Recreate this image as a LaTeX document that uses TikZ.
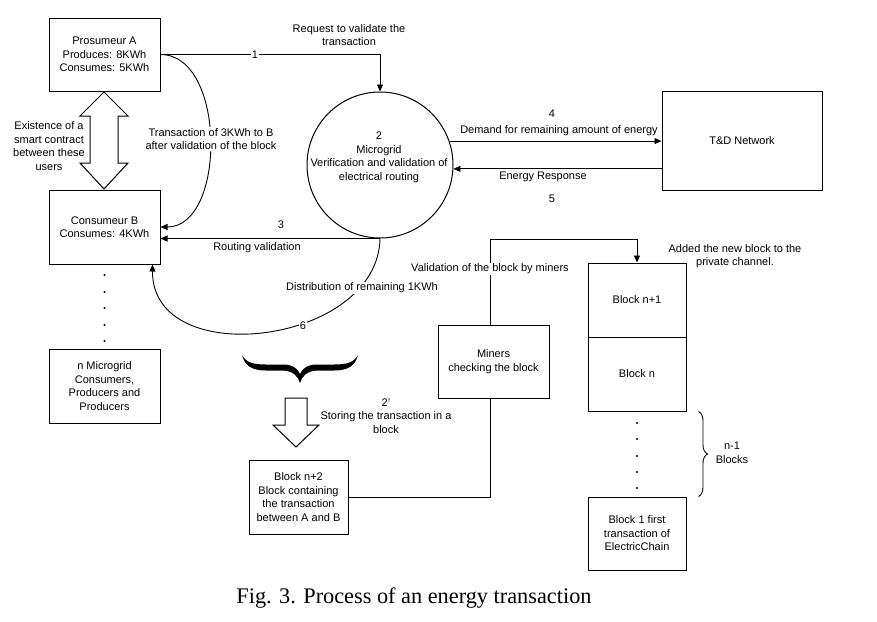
\documentclass[tikz,border=0pt]{standalone}
\usepackage{fontspec}
\setmainfont{Liberation Sans}
\newfontfamily\capfont{Liberation Serif}
\usetikzlibrary{arrows.meta,decorations.pathreplacing,calc}
\newcommand{\lblfont}{\fontsize{11}{13.5}\selectfont}
\tikzset{
  boxnode/.style={draw, line width=1pt, align=center, font=\lblfont, inner sep=2pt},
  lab/.style={font=\lblfont, align=center, inner sep=1pt},
  wlab/.style={lab, fill=white},
  arr/.style={-{Triangle[length=7pt,width=6pt]}, line width=0.9pt},
  plain/.style={line width=0.9pt},
  dotmark/.style={fill=black}
}
\begin{document}
\begin{tikzpicture}[x=1pt,y=-1pt]
\useasboundingbox (0,0) rectangle (877,621);

% boxes
\node[boxnode, minimum width=111, minimum height=73] (A) at (104.5,54.5) {Prosumeur A\\Produces: 8KWh\\Consumes: 5KWh};
\node[boxnode, minimum width=111, minimum height=74] (B) at (104.5,227) {Consumeur B\\Consumes: 4KWh};
\node[boxnode, minimum width=111, minimum height=74] (nm) at (104.5,386) {n Microgrid\\Consumers,\\Producers and\\Producers};
\node[draw, circle, line width=1pt, minimum size=146, inner sep=0pt] (circ) at (380,165) {};
\node[lab] (circt) at (379,157.5) {2\\Microgrid\\Verification and validation of\\electrical routing};
\node[boxnode, minimum width=160, minimum height=99] (TD) at (742,140.5) {T\&D Network};
\node[boxnode, minimum width=98, minimum height=74] (bn1) at (637,300) {Block n+1};
\node[boxnode, minimum width=98, minimum height=74] (bn) at (637,374) {Block n};
\node[boxnode, minimum width=98, minimum height=73] (b1) at (637,533.5) {Block 1 first\\transaction of\\ElectricChain};
\node[boxnode, minimum width=99, minimum height=74] (n2) at (298.5,497) {Block n+2\\Block containing\\the transaction\\between A and B};

% double arrow between A and B
\draw[line width=1pt] (104,92) -- (128,116) -- (118,116) -- (118,163) -- (128,163) -- (104,189)
  -- (80,163) -- (90,163) -- (90,116) -- (80,116) -- cycle;
\node[lab] (ex) at (49,146) {Existence of a\\smart contract\\between these\\users};

% edge 1
\draw[arr] (A.east) -| node[pos=0.215, wlab] (l1) {1} (circ.north);
\node[lab] (req) at (349,35) {Request to validate the\\transaction};

% transaction curve
\draw[arr] (A.east) .. controls +(66,0) and +(66,0) .. (B.east);
\node[wlab] (tr) at (211,139) {Transaction of 3KWh to B\\after validation of the block};

% edge 3
\draw[arr] (circ.south) -- (circ.south -| B.east);
\node[lab] (l3) at (281,225) {3};
\node[lab] (rv) at (257,248) {Routing validation};

% edge 6
\coordinate (Bin) at ($(B.south east)+(-8,0)$);
\draw[arr] (circ.south) .. controls (378,345) and (152,372) .. (Bin);
\node[wlab] (l6) at (303,326) {6};
\node[wlab] (dist) at (362,288) {Distribution of remaining 1KWh};

% edges 4 and 5
\draw[arr] (circ.19) -- (circ.19 -| TD.west);
\draw[arr] (TD.west |- circ.357.6) -- (circ.357.6);
\node[lab] (l4) at (552,114) {4};
\node[lab] (dem) at (559,131) {Demand for remaining amount of energy};
\node[lab] (er) at (543,177) {Energy Response};
\node[lab] (l5) at (552,199) {5};

% dots under B
\foreach \yy in {275,292,308,325,341} \fill (104.5,\yy) circle (1.1);

% big brace
\fill (242,355)
  .. controls (245,366) and (252,370.5) .. (266,370.5)
  -- (283,370.5)
  .. controls (293,371) and (298,376) .. (300,383)
  .. controls (302,376) and (307,371) .. (317,370.5)
  -- (334,370.5)
  .. controls (348,370.5) and (355,366) .. (358,355)
  .. controls (354,362) and (348,364.5) .. (334,364.5)
  -- (317,364.5)
  .. controls (307,364.5) and (302,369) .. (300,374)
  .. controls (298,369) and (293,364.5) .. (283,364.5)
  -- (266,364.5)
  .. controls (252,364.5) and (246,362) .. (242,355) -- cycle;

% block down arrow
\draw[line width=1pt] (285,398) -- (307,398) -- (307,425) -- (319,425) -- (296,447) -- (273,425) -- (285,425) -- cycle;
\node[lab] (st) at (386,416) {2'\\Storing the transaction in a\\block};

% n+2 -> n+1 via miners
\coordinate (turn) at (490,239);
\draw[arr] (n2.east) -| (turn) -| (bn1.north);
\node[boxnode, fill=white, minimum width=111, minimum height=73] (min) at (493.5,361.5) {Miners\\checking the block};
\node[wlab] (vm) at (490,269) {Validation of the block by miners};
\node[lab] (add) at (735,256) {Added the new block to the\\private channel.};

% dots between blocks
\foreach \yy in {423,439,456,472,488} \fill (637,\yy) circle (1.1);

% right brace
\draw[decorate, decoration={brace, amplitude=9pt}, line width=0.9pt]
  ($(bn.south east)+(12,0)$) -- ($(b1.north east)+(12,0)$);
\node[lab] (nb) at (732,453) {n-1\\Blocks};

% caption
\node[font=\capfont\fontsize{22.3}{26}\selectfont, anchor=base, inner sep=0pt] (cap) at (414,603) {Fig. 3. Process of an energy transaction};
\end{tikzpicture}
\end{document}
